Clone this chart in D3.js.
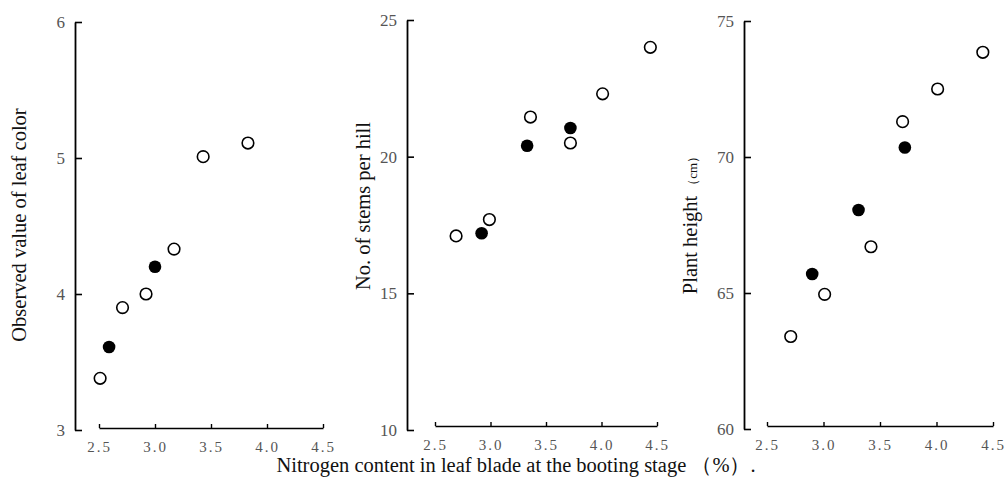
<!DOCTYPE html>
<html>
<head>
<meta charset="utf-8">
<script src="https://cdn.jsdelivr.net/npm/d3@7"></script>
<style>
  body { margin: 0; background: #fff; }
  text { font-family: "Liberation Serif", "DejaVu Serif", serif; }
</style>
</head>
<body>
<div id="vizArea"></div>
<script>
// nitrogen ticks shared by the three panels
const xTicks = [2.5, 3.0, 3.5, 4.0, 4.5];

// panel 1 : leaf colour
const colorOpenN = [2.51, 2.71, 2.92, 3.17, 3.43, 3.83];
const colorOpenV = [3.38, 3.90, 4.00, 4.33, 5.01, 5.11];
const colorFilledN = [2.59, 3.00];
const colorFilledV = [3.61, 4.20];
const colorTicks = [3, 4, 5, 6];

// panel 2 : stems per hill
const stemOpenN = [2.69, 2.99, 3.36, 3.72, 4.01, 4.44];
const stemOpenV = [17.1, 17.7, 21.45, 20.5, 22.3, 24.0];
const stemFilledN = [2.92, 3.33, 3.72];
const stemFilledV = [17.2, 20.4, 21.05];
const stemTicks = [10, 15, 20, 25];

// panel 3 : plant height
const heightOpenN = [2.71, 3.01, 3.42, 3.70, 4.01, 4.41];
const heightOpenV = [63.4, 64.95, 66.7, 71.3, 72.5, 73.85];
const heightFilledN = [2.90, 3.31, 3.72];
const heightFilledV = [65.7, 68.05, 70.35];
const heightTicks = [60, 65, 70, 75];

const W = 1005, H = 483;

const panels = [
  { axisX: 75, xLeft: 99, xRight: 323, yTop: 22, yBottom: 430, xAxisY: 428,
    yDomain: [3, 6], yTicks: colorTicks, labelX: 19, labelY: 225,
    label: "Observed value of leaf color", unit: null,
    open: colorOpenN.map((n, i) => [n, colorOpenV[i]]),
    filled: colorFilledN.map((n, i) => [n, colorFilledV[i]]) },
  { axisX: 407, xLeft: 435, xRight: 657, yTop: 20, yBottom: 430, xAxisY: 426,
    yDomain: [10, 25], yTicks: stemTicks, labelX: 363, labelY: 206,
    label: "No. of stems per hill", unit: null,
    open: stemOpenN.map((n, i) => [n, stemOpenV[i]]),
    filled: stemFilledN.map((n, i) => [n, stemFilledV[i]]) },
  { axisX: 744, xLeft: 767, xRight: 993, yTop: 21, yBottom: 429, xAxisY: 426,
    yDomain: [60, 75], yTicks: heightTicks, labelX: 690, labelY: 222,
    label: "Plant height", unit: "（cm）",
    open: heightOpenN.map((n, i) => [n, heightOpenV[i]]),
    filled: heightFilledN.map((n, i) => [n, heightFilledV[i]]) }
];

const svg = d3.select("#vizArea")
  .append("svg")
  .attr("width", W)
  .attr("height", H);

panels.forEach(p => {
  const x = d3.scaleLinear().domain([2.5, 4.5]).range([p.xLeft, p.xRight]);
  const y = d3.scaleLinear().domain(p.yDomain).range([p.yBottom, p.yTop]);

  // y axis, ticks pointing inwards
  const gy = svg.append("g")
    .attr("transform", `translate(${p.axisX},0)`)
    .call(d3.axisLeft(y).tickValues(p.yTicks).tickSize(-7).tickSizeOuter(0)
      .tickFormat(d3.format("d")).tickPadding(10));
  gy.select(".domain").attr("stroke-width", 1.8);
  gy.selectAll(".tick line").attr("stroke-width", 1.6);
  gy.selectAll(".tick text")
    .attr("font-size", 17)
    .attr("fill", "#555")
    .attr("font-family", "Liberation Serif, serif");

  // x axis, floating line with small upward ticks
  const gx = svg.append("g")
    .attr("transform", `translate(0,${p.xAxisY})`)
    .call(d3.axisBottom(x).tickValues(xTicks).tickSize(-4).tickSizeOuter(0)
      .tickFormat(d3.format(".1f")).tickPadding(13));
  gx.select(".domain").attr("stroke-width", 1.6);
  gx.selectAll(".tick line").attr("stroke-width", 1.4);
  gx.selectAll(".tick text")
    .attr("font-size", 15)
    .attr("fill", "#555")
    .attr("letter-spacing", "2px")
    .attr("font-family", "Liberation Serif, serif");

  // y label
  const lab = svg.append("text")
    .attr("transform", `translate(${p.labelX},${p.labelY}) rotate(-90)`)
    .attr("text-anchor", "middle")
    .attr("dy", "0.35em")
    .attr("font-size", 20.5)
    .attr("fill", "#111")
    .text(p.label);
  if (p.unit) {
    lab.append("tspan")
      .attr("font-size", 13)
      .attr("dx", 4)
      .text(p.unit);
  }

  svg.append("g").selectAll("circle.open")
    .data(p.open)
    .join("circle")
    .attr("class", "open")
    .attr("cx", d => x(d[0]))
    .attr("cy", d => y(d[1]))
    .attr("r", 5.8)
    .attr("fill", "#fff")
    .attr("stroke", "#000")
    .attr("stroke-width", 1.6);

  svg.append("g").selectAll("circle.filled")
    .data(p.filled)
    .join("circle")
    .attr("class", "filled")
    .attr("cx", d => x(d[0]))
    .attr("cy", d => y(d[1]))
    .attr("r", 6.3)
    .attr("fill", "#000");
});

// shared x label
svg.append("text")
  .attr("x", 516)
  .attr("y", 472)
  .attr("text-anchor", "middle")
  .attr("font-size", 20.5)
  .attr("fill", "#111")
  .text("Nitrogen content in leaf blade at the booting stage （%）.");
</script>
</body>
</html>
